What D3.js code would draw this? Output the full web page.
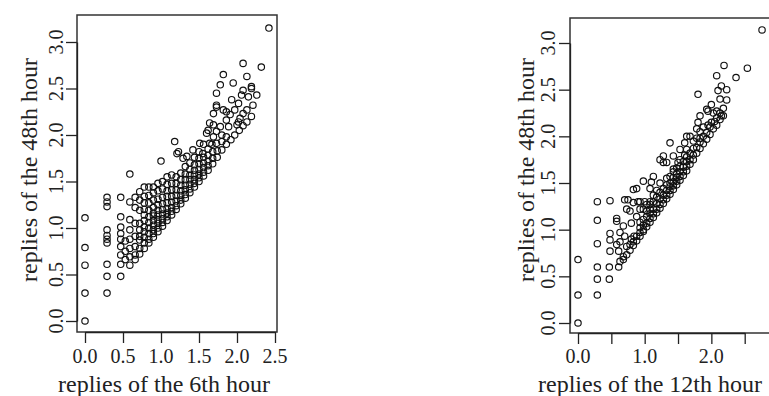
<!DOCTYPE html>
<html>
<head>
<meta charset="utf-8">
<script src="https://cdn.jsdelivr.net/npm/d3@7"></script>
<style>
  body { margin: 0; background: #fff; }
  svg { display: block; }
  .frame { fill: none; stroke: #333; stroke-width: 1.5; }
  .pt { fill: none; stroke: #111; stroke-width: 1.15; }
  .axis path, .axis line { stroke: #222; stroke-width: 1.3; }
  text { font-family: "Liberation Serif", "Times New Roman", serif; fill: #222; }
</style>
</head>
<body>
<div id="chart"></div>
<script>
// tick values and labels
const xTicks = [0, 0.5, 1, 1.5, 2, 2.5];
const xLabels6 = [0, 0.5, 1, 1.5, 2, 2.5];
const xLabels12 = [0, 1, 2];
const yTicks = [0, 0.5, 1, 1.5, 2, 2.5, 3];
const yTitle = 'replies of the 48th hour';
const xTitle6 = 'replies of the 6th hour';
const xTitle12 = 'replies of the 12th hour';

// [replies at 6th hour, replies at 48th hour]
const pts6 = [
  [0,0],[0,0.3],[0,0.6],[0,0.79],[0,1.11],
  [0.29,0.3],[0.29,0.48],[0.29,0.61],[0.29,0.84],[0.29,0.88],[0.29,0.92],[0.29,0.98],[0.29,1.23],[0.29,1.28],[0.29,1.33],
  [0.47,0.48],[0.47,0.61],[0.47,0.71],[0.47,0.8],[0.47,0.88],[0.47,0.94],[0.47,1.01],[0.47,1.12],[0.47,1.33],
  [0.53,0.66],[0.53,0.75],[0.53,0.86],
  [0.59,0.6],[0.59,0.69],[0.59,0.78],[0.59,0.88],[0.59,0.98],[0.59,1.09],[0.59,1.28],[0.59,1.58],
  [0.66,0.66],[0.66,0.71],[0.66,0.8],[0.66,0.91],[0.66,1.05],[0.66,1.22],[0.66,1.33],
  [0.72,0.72],[0.72,0.78],[0.72,0.87],[0.72,0.91],[0.72,0.98],[0.72,1.05],[0.72,1.19],[0.72,1.3],[0.72,1.39],
  [0.78,0.78],[0.78,0.84],[0.78,0.9],[0.78,0.96],[0.78,1.01],[0.78,1.08],[0.78,1.14],[0.78,1.2],[0.78,1.27],[0.78,1.34],[0.78,1.44],
  [0.84,0.84],[0.84,0.88],[0.84,0.94],[0.84,1],[0.84,1.06],[0.84,1.12],[0.84,1.19],[0.84,1.27],[0.84,1.35],[0.84,1.44],
  [0.9,0.9],[0.9,0.94],[0.9,0.98],[0.9,1.03],[0.9,1.08],[0.9,1.13],[0.9,1.16],[0.9,1.22],[0.9,1.3],[0.9,1.38],[0.9,1.44],
  [0.96,0.96],[0.96,1],[0.96,1.05],[0.96,1.09],[0.96,1.14],[0.96,1.19],[0.96,1.25],[0.96,1.31],[0.96,1.4],[0.96,1.48],
  [1,1.72],
  [1.02,1.02],[1.02,1.06],[1.02,1.1],[1.02,1.15],[1.02,1.2],[1.02,1.26],[1.02,1.33],[1.02,1.42],[1.02,1.5],
  [1.08,1.08],[1.08,1.12],[1.08,1.16],[1.08,1.21],[1.08,1.27],[1.08,1.34],[1.08,1.4],[1.08,1.47],[1.08,1.55],
  [1.14,1.14],[1.14,1.18],[1.14,1.22],[1.14,1.28],[1.14,1.34],[1.14,1.41],[1.14,1.48],[1.14,1.57],
  [1.18,1.93],
  [1.2,1.2],[1.2,1.24],[1.2,1.29],[1.2,1.35],[1.2,1.41],[1.2,1.48],[1.2,1.55],[1.21,1.8],
  [1.23,1.82],
  [1.26,1.26],[1.26,1.3],[1.26,1.35],[1.26,1.4],[1.26,1.46],[1.26,1.52],[1.26,1.59],[1.29,1.75],
  [1.32,1.32],[1.32,1.36],[1.32,1.41],[1.32,1.46],[1.32,1.52],[1.32,1.58],[1.32,1.66],[1.34,1.77],
  [1.38,1.38],[1.38,1.42],[1.38,1.47],[1.38,1.52],[1.38,1.57],[1.38,1.63],[1.38,1.7],
  [1.44,1.44],[1.44,1.48],[1.44,1.52],[1.44,1.57],[1.44,1.62],[1.44,1.68],[1.44,1.76],[1.42,1.84],
  [1.5,1.5],[1.5,1.54],[1.5,1.58],[1.5,1.63],[1.5,1.69],[1.5,1.75],[1.5,1.82],[1.51,1.91],
  [1.56,1.56],[1.56,1.6],[1.56,1.65],[1.56,1.7],[1.56,1.76],[1.55,1.8],[1.56,1.9],
  [1.62,1.62],[1.62,1.67],[1.62,1.72],[1.62,1.78],[1.62,1.85],[1.64,1.91],[1.6,2.02],[1.62,2.05],[1.64,2.13],
  [1.68,1.69],[1.68,1.75],[1.68,1.82],[1.67,1.9],[1.69,1.98],[1.69,2.11],[1.69,2.23],[1.73,2.3],
  [1.74,1.76],[1.74,1.83],[1.73,1.91],[1.73,2.04],[1.73,2.32],[1.73,2.45],
  [1.8,1.84],[1.8,1.93],[1.8,2],[1.78,2.09],[1.82,2.27],[1.78,2.54],[1.82,2.65],
  [1.86,1.9],[1.86,1.98],[1.86,2.16],[1.86,2.25],
  [1.92,1.95],[1.89,2.09],[1.91,2.22],[1.93,2.38],
  [1.97,2],[2,2.11],[1.97,2.27],[1.95,2.56],
  [2.03,2.05],[2.02,2.14],[2.04,2.18],[2.02,2.34],
  [2.08,2.1],[2.08,2.23],[2.06,2.43],[2.08,2.48],[2.08,2.77],
  [2.13,2.14],[2.13,2.27],[2.15,2.41],[2.13,2.63],
  [2.19,2.2],[2.21,2.32],[2.19,2.5],[2.19,2.52],
  [2.26,2.43],[2.32,2.73],[2.42,3.15]
];

// [replies at 12th hour, replies at 48th hour]
const pts12 = [
  [0,0],[0,0.3],[0,0.68],
  [0.29,0.3],[0.29,0.47],[0.29,0.6],[0.29,0.85],[0.29,1.1],[0.29,1.3],
  [0.47,0.47],[0.47,0.6],[0.48,0.77],[0.48,0.89],[0.48,0.96],[0.48,1.31],
  [0.61,0.6],[0.61,0.77],[0.58,0.84],[0.58,1.09],[0.58,1.12],
  [0.63,0.66],[0.63,0.87],[0.63,0.97],
  [0.68,0.68],[0.68,0.71],[0.7,0.93],[0.68,1.04],[0.7,1.32],
  [0.73,0.73],[0.73,0.82],[0.73,1.22],[0.75,1.32],
  [0.78,0.78],[0.78,0.84],[0.8,0.9],[0.8,1.07],[0.78,1.2],
  [0.83,0.83],[0.83,0.87],[0.84,0.93],[0.83,1.29],[0.83,1.43],
  [0.88,0.88],[0.88,0.93],[0.88,1.14],[0.9,1.3],[0.88,1.44],
  [0.93,0.93],[0.93,0.97],[0.93,1.02],[0.93,1.08],[0.93,1.22],[0.93,1.3],
  [0.98,0.98],[0.98,1],[0.98,1.05],[0.98,1.11],[0.98,1.22],[1,1.3],[0.98,1.52],
  [1.03,1.03],[1.03,1.07],[1.03,1.14],[1.03,1.2],[1.03,1.27],
  [1.08,1.08],[1.08,1.12],[1.08,1.17],[1.08,1.22],[1.08,1.27],[1.08,1.3],[1.08,1.44],
  [1.13,1.13],[1.13,1.17],[1.13,1.22],[1.13,1.3],[1.13,1.37],[1.1,1.51],[1.13,1.57],
  [1.18,1.18],[1.18,1.22],[1.18,1.28],[1.18,1.35],[1.18,1.42],
  [1.23,1.23],[1.23,1.27],[1.23,1.33],[1.23,1.4],[1.23,1.5],[1.23,1.75],
  [1.28,1.28],[1.28,1.32],[1.28,1.37],[1.28,1.44],[1.28,1.72],[1.28,1.79],
  [1.33,1.33],[1.33,1.37],[1.33,1.42],[1.33,1.48],[1.33,1.55],[1.33,1.72],
  [1.38,1.38],[1.38,1.42],[1.38,1.46],[1.38,1.5],[1.38,1.57],[1.38,1.93],
  [1.43,1.43],[1.43,1.47],[1.43,1.51],[1.43,1.56],[1.43,1.62],[1.43,1.65],[1.43,1.79],
  [1.48,1.48],[1.48,1.52],[1.48,1.56],[1.48,1.6],[1.48,1.66],[1.5,1.72],
  [1.53,1.53],[1.53,1.57],[1.53,1.62],[1.53,1.68],[1.53,1.75],[1.53,1.86],
  [1.58,1.58],[1.58,1.62],[1.58,1.67],[1.58,1.73],[1.6,1.8],[1.6,1.93],
  [1.63,1.63],[1.63,1.68],[1.63,1.73],[1.63,1.78],[1.63,1.86],[1.63,2],
  [1.68,1.7],[1.68,1.75],[1.68,1.82],[1.73,1.87],[1.68,2],
  [1.73,1.75],[1.73,1.8],[1.73,1.95],
  [1.78,1.82],[1.78,1.88],[1.78,1.98],[1.78,2.08],
  [1.8,2.15],[1.8,2.45],
  [1.83,1.87],[1.83,1.94],[1.83,1.98],[1.83,2.05],[1.83,2.22],
  [1.88,1.92],[1.88,2],[1.88,2.1],[1.93,2.29],
  [1.93,1.97],[1.93,2.04],[1.95,2.12],[1.95,2.27],
  [1.98,2.02],[1.98,2.1],[2,2.15],[2,2.34],
  [2.03,2.08],[2.05,2.16],[2.03,2.25],
  [2.08,2.12],[2.08,2.2],[2.08,2.27],[2.1,2.49],[2.08,2.65],
  [2.13,2.18],[2.13,2.25],[2.15,2.22],[2.13,2.4],[2.15,2.54],
  [2.18,2.22],[2.18,2.3],[2.23,2.39],[2.23,2.5],
  [2.19,2.76],[2.37,2.63],[2.54,2.73],[2.76,3.14]
];

const width = 769;
const height = 396;

const svg = d3.select('#chart')
              .append('svg')
              .attr('width', width)
              .attr('height', height);

const fmt = d3.format('.1f');

function drawPanel(cfg) {
  const x = d3.scaleLinear()
              .domain([0, 2.5])
              .range([cfg.x0, cfg.x25]);
  const y = d3.scaleLinear()
              .domain([0, 3])
              .range([cfg.y0, cfg.y3]);

  const g = svg.append('g');

  // plot frame
  g.append('rect')
   .attr('class', 'frame')
   .attr('x', cfg.box[0])
   .attr('y', cfg.box[1])
   .attr('width', cfg.box[2] - cfg.box[0])
   .attr('height', cfg.box[3] - cfg.box[1]);

  // points
  g.selectAll('.pt')
   .data(cfg.points)
   .enter()
   .append('circle')
   .attr('class', 'pt')
   .attr('cx', (d) => x(d[0]))
   .attr('cy', (d) => y(d[1]))
   .attr('r', 3.2);

  // x axis ticks
  g.append('g')
   .attr('class', 'axis')
   .attr('transform', `translate(0, ${cfg.box[3]})`)
   .call(d3.axisBottom(x)
           .tickValues(xTicks)
           .tickSize(11)
           .tickSizeOuter(0)
           .tickFormat(() => ''));

  g.selectAll('.xlab')
   .data(cfg.xLabels)
   .enter()
   .append('text')
   .attr('x', (d) => x(d))
   .attr('y', cfg.xLabY)
   .attr('text-anchor', 'middle')
   .style('font-size', cfg.xLabSize + 'px')
   .text(fmt);

  // y axis ticks
  g.append('g')
   .attr('class', 'axis')
   .attr('transform', `translate(${cfg.box[0]}, 0)`)
   .call(d3.axisLeft(y)
           .tickValues(yTicks)
           .tickSize(11)
           .tickSizeOuter(0)
           .tickFormat(() => ''));

  g.selectAll('.ylab')
   .data(yTicks)
   .enter()
   .append('text')
   .attr('transform', (d) => `translate(${cfg.yLabX}, ${y(d)}) rotate(-90)`)
   .attr('text-anchor', 'middle')
   .style('font-size', cfg.yLabSize + 'px')
   .text(fmt);

  // axis titles
  g.append('text')
   .attr('x', cfg.xTitleX)
   .attr('y', cfg.xTitleY)
   .attr('text-anchor', 'middle')
   .style('font-size', cfg.titleSize + 'px')
   .text(cfg.xTitle);

  g.append('text')
   .attr('transform', `translate(${cfg.yTitleX}, ${cfg.yTitleY}) rotate(-90)`)
   .attr('text-anchor', 'middle')
   .style('font-size', cfg.titleSize + 'px')
   .text(yTitle);
}

drawPanel({
  points: pts6,
  x0: 85, x25: 275, y0: 321, y3: 42,
  box: [77, 15, 277, 332],
  xLabels: xLabels6, xLabY: 363, xLabSize: 20,
  yLabX: 63, yLabSize: 20,
  xTitle: xTitle6, xTitleX: 164, xTitleY: 392,
  yTitleX: 37, yTitleY: 170,
  titleSize: 24
});

drawPanel({
  points: pts12,
  x0: 578, x25: 744.7, y0: 323, y3: 43,
  box: [570, 18, 772, 333],
  xLabels: xLabels12, xLabY: 363, xLabSize: 20,
  yLabX: 555, yLabSize: 20,
  xTitle: xTitle12, xTitleX: 650, xTitleY: 392,
  yTitleX: 534, yTitleY: 170,
  titleSize: 24
});
</script>
</body>
</html>
